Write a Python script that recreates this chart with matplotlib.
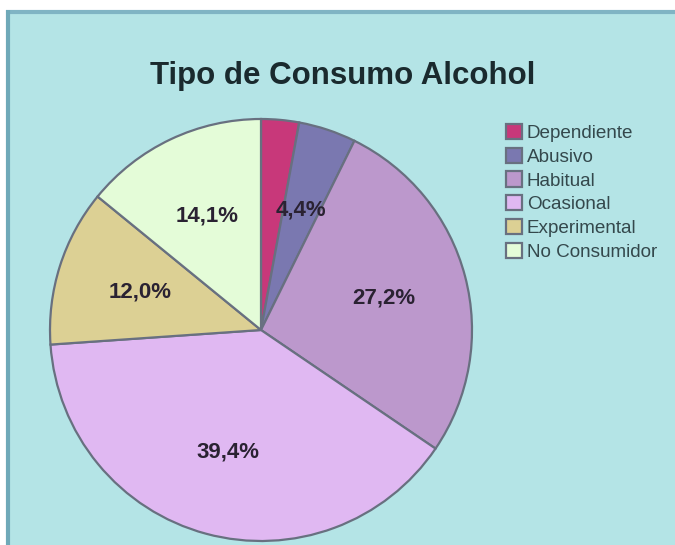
import matplotlib
matplotlib.use("Agg")
import matplotlib.pyplot as plt
from matplotlib.patches import Rectangle
from matplotlib.lines import Line2D

categories = ["Dependiente", "Abusivo", "Habitual", "Ocasional", "Experimental", "No Consumidor"]
values = [2.9, 4.4, 27.2, 39.4, 12.0, 14.1]
colors = ["#c8387a", "#7a78b0", "#bc98cc", "#e0b8f2", "#dcd094", "#e4fcd8"]
title = "Tipo de Consumo Alcohol"

W, H = 675, 545
fig = plt.figure(figsize=(W / 100, H / 100), dpi=100)
fig.patch.set_facecolor("white")

bg = "#b4e4e6"
# chart area background + frame
fig.patches.append(Rectangle((6 / W, 0), 1, (H - 10) / H, transform=fig.transFigure,
                             facecolor=bg, edgecolor="none", zorder=-5))
fig.add_artist(Line2D([6 / W, 1], [1 - 12 / H, 1 - 12 / H], transform=fig.transFigure,
                      color="#80b4c4", lw=3.0, solid_capstyle="butt", zorder=-4))
fig.add_artist(Line2D([8 / W, 8 / W], [0, 1 - 10 / H], transform=fig.transFigure,
                      color="#6fa9b8", lw=3.0, solid_capstyle="butt", zorder=-4))

cx, cy, r = 261, 330, 211
ax = fig.add_axes([(cx - r) / W, (H - cy - r) / H, 2 * r / W, 2 * r / H])
ax.set_facecolor("none")
ax.set_zorder(2)


def fmt(p):
    return "" if p < 3 else ("%.1f%%" % p).replace(".", ",")


res = ax.pie(values, colors=colors, startangle=90, counterclock=False,
             wedgeprops=dict(edgecolor="#687080", linewidth=1.6),
             autopct=fmt, pctdistance=0.6,
             textprops=dict(family="Liberation Sans", fontweight="bold",
                            fontsize=16, color="#2a2232"))
for w in res[0]:
    w.set_clip_on(False)
ax.set_xlim(-1, 1)
ax.set_ylim(-1, 1)
ax.set_aspect("equal")
ax.axis("off")

fig.text(343 / W, 1 - 76 / H, title, ha="center", va="center",
         family="Liberation Sans", fontweight="bold", fontsize=22.5, color="#1a2a2e")

leg = fig.legend(res[0], categories, loc="upper left",
                 bbox_to_anchor=(506 / W, 1 - 124 / H), frameon=False,
                 prop=dict(family="Liberation Sans", size=13.6),
                 handlelength=0.85, handleheight=0.85, handletextpad=0.25,
                 labelspacing=0.3, borderpad=0, borderaxespad=0)
for t in leg.get_texts():
    t.set_color("#34484c")

fig.savefig("out.png", dpi=100, facecolor="white")
